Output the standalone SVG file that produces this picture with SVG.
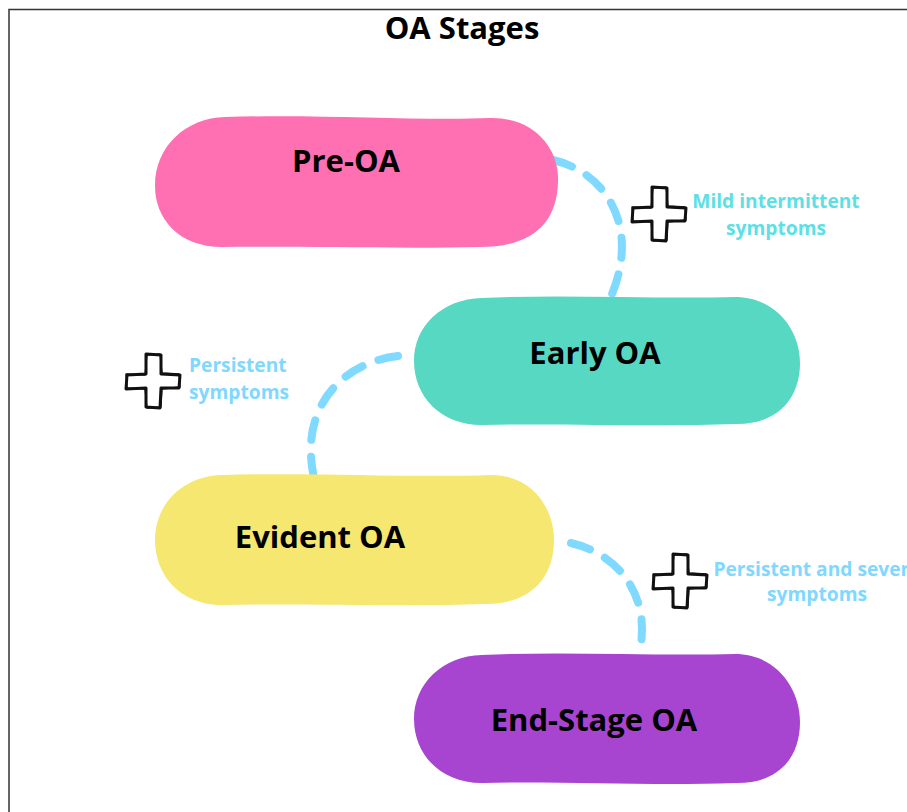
<svg xmlns="http://www.w3.org/2000/svg" width="907" height="812" viewBox="0 0 907 812">
<defs>
<style>
.node-label{font-family:"Open Sans","Liberation Sans",sans-serif;font-weight:bold;font-size:31px;fill:#000;text-anchor:middle}
.title{font-family:"Open Sans","Liberation Sans",sans-serif;font-weight:bold;font-size:31px;fill:#000;text-anchor:middle}
.note{font-family:"Open Sans","Liberation Sans",sans-serif;font-weight:bold;font-size:19.2px}
.conn{fill:none;stroke:#80DAFF;stroke-width:8;stroke-linecap:round;stroke-dasharray:20 17}
.cross{fill:#fff;stroke:#111;stroke-width:3;stroke-linejoin:round}
.cross2{fill:none;stroke:#111;stroke-width:1.3;stroke-linejoin:round}
</style>
<g id="plus-shape">
<path class="cross" d="M -7 -27 L 8 -26 L 8 -7 L 27 -6 L 26 7 L 8 7 L 7 27 L -7 26 L -7 7 L -27 8 L -26 -6 L -7 -7 Z"/>
<path class="cross2" d="M -6 -26 L 7 -27 L 9 -8 L 26 -7 L 27 6 L 9 8 L 8 26 L -6 27 L -8 8 L -26 7 L -27 -7 L -8 -6 Z"/>
</g>
</defs>
<rect width="907" height="812" fill="#fff"/>
<path d="M 9 812 L 9 9.5 L 907 9.5" fill="none" stroke="#333" stroke-width="1.5"/>
<text class="title" x="462" y="39">OA Stages</text>

<g id="connectors">
<path class="conn" d="M 553 160 C 605 172, 640 225, 612 294"/>
<path class="conn" d="M 398 356 C 345 362, 298 405, 314 478"/>
<path class="conn" d="M 571 543 C 622 555, 652 600, 639 654"/>
</g>

<g id="node-pre-oa">
<path fill="#FF70B2" d="M 225 117 C 320 114, 420 121, 490 118 C 535 117, 560 150, 558 182 C 557 225, 530 247, 480 247 C 400 249, 300 246, 222 247 C 178 247, 155 218, 155 186 C 155 146, 186 118, 225 117 Z"/>
<text class="node-label" x="346" y="172">Pre-OA</text>
</g>

<g id="node-early-oa">
<path fill="#56D8C2" d="M 482 298 C 560 294, 650 299, 735 297 C 776 297, 800 330, 800 363 C 800 400, 776 425, 735 424 C 650 427, 560 423, 482 425 C 440 425, 414 396, 414 361 C 414 326, 442 299, 482 298 Z"/>
<text class="node-label" x="595" y="364">Early OA</text>
</g>

<g id="node-evident-oa">
<path fill="#F6E771" d="M 222 475 C 310 472, 410 478, 490 475 C 532 474, 554 508, 554 540 C 554 580, 528 605, 484 604 C 400 607, 300 603, 222 605 C 180 605, 155 575, 155 540 C 155 505, 182 476, 222 475 Z"/>
<text class="node-label" x="320" y="548">Evident OA</text>
</g>

<g id="node-end-stage-oa">
<path fill="#A845D0" d="M 482 655 C 560 651, 650 656, 735 654 C 776 654, 800 688, 800 722 C 800 760, 776 784, 735 783 C 650 786, 560 781, 482 783 C 440 783, 414 754, 414 719 C 414 684, 442 656, 482 655 Z"/>
<text class="node-label" x="594" y="731">End-Stage OA</text>
</g>

<g id="label-mild">
<use href="#plus-shape" x="659" y="214"/>
<text class="note" fill="#5CE0E6" text-anchor="middle"><tspan x="776" y="208">Mild intermittent</tspan><tspan x="776" y="235">symptoms</tspan></text>
</g>

<g id="label-persistent">
<use href="#plus-shape" x="153" y="381"/>
<text class="note" fill="#80D8FF"><tspan x="189" y="372">Persistent</tspan><tspan x="189" y="399">symptoms</tspan></text>
</g>

<g id="label-severe">
<use href="#plus-shape" x="680" y="581"/>
<text class="note" fill="#80D8FF" text-anchor="middle"><tspan x="817" y="576">Persistent and severe</tspan><tspan x="817" y="601">symptoms</tspan></text>
</g>
</svg>
